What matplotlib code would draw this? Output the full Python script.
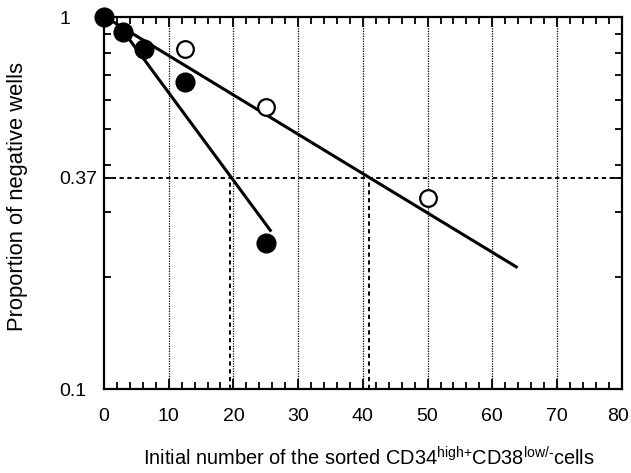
import matplotlib
matplotlib.use('Agg')
import matplotlib.pyplot as plt
import matplotlib.transforms as mtransforms
from matplotlib.ticker import FixedLocator, NullFormatter, FixedFormatter

plt.rcParams['font.family'] = ['Liberation Sans', 'DejaVu Sans']
plt.rcParams['mathtext.fontset'] = 'custom'
plt.rcParams['mathtext.rm'] = 'Liberation Sans'
plt.rcParams['mathtext.it'] = 'Liberation Sans:italic'
plt.rcParams['mathtext.bf'] = 'Liberation Sans:bold'

# Data
filled_x = [0, 3, 6.25, 12.5, 25]
filled_y = [1.0, 0.91, 0.82, 0.667, 0.247]
open_x = [12.5, 25, 50]
open_y = [0.82, 0.574, 0.327]
fit_filled_x = [2.9, 25.7]
fit_filled_y = [0.92, 0.267]
fit_open_x = [0.6, 63.7]
fit_open_y = [0.99, 0.213]
ref_y = 0.37
ref_x = [19.5, 41]
x_ticks = [0, 10, 20, 30, 40, 50, 60, 70, 80]
x_minor = [v for v in range(0, 81, 2) if v % 10 != 0]
y_ticks = [0.1, 0.37, 1]
y_tick_labels = ['0.1', '0.37', '1']
y_minor = [0.2, 0.3, 0.4, 0.5, 0.6, 0.7, 0.8, 0.9]
grid_x = [10, 20, 30, 40, 50, 60, 70]

fig = plt.figure(figsize=(6.31, 4.73), dpi=100)
ax = fig.add_axes([104/631, 1-389/473, (621.7-104)/631, (389-17)/473])
ax.set_yscale('log')
ax.set_xlim(0, 80)
ax.set_ylim(0.1, 1)

# grid
for gx in grid_x:
    ax.axvline(gx, color='black', lw=0.9, ls=(0, (1, 1)), zorder=1)
ax.axhline(ref_y, color='black', lw=1.4, ls=(0, (2.2, 1.8)), zorder=1)
for rx in ref_x:
    ax.plot([rx, rx], [0.1, ref_y], color='black', lw=1.4, ls=(0, (2.2, 1.8)), zorder=1)

ax.plot(fit_filled_x, fit_filled_y, color='black', lw=2.2, zorder=2)
ax.plot(fit_open_x, fit_open_y, color='black', lw=2.2, zorder=2)
ax.plot(filled_x, filled_y, 'o', color='black', ms=13.5, zorder=4, clip_on=False)
ax.plot(open_x, open_y, 'o', mfc='white', mec='black', mew=1.6, ms=12, zorder=4, clip_on=False)

for s in ax.spines.values():
    s.set_linewidth(1.6)

ax.xaxis.set_major_locator(FixedLocator(x_ticks))
ax.xaxis.set_minor_locator(FixedLocator(x_minor))
ax.yaxis.set_major_locator(FixedLocator(y_ticks))
ax.yaxis.set_major_formatter(FixedFormatter(y_tick_labels))
ax.yaxis.set_minor_locator(FixedLocator(y_minor))
ax.yaxis.set_minor_formatter(NullFormatter())
ax.tick_params(which='both', direction='in', top=True, right=True, width=1.3)
ax.tick_params(which='major', length=7, labelsize=14)
ax.tick_params(which='minor', length=5)
ax.tick_params(axis='x', which='major', pad=14)
ax.tick_params(axis='y', which='major', pad=32)
for lab in ax.get_yticklabels():
    lab.set_horizontalalignment('left')

# nudge the last x tick label so it stays inside the figure
last = ax.get_xticklabels()[-1]
last.set_transform(last.get_transform() +
                   mtransforms.ScaledTranslation(-4/100, 0, fig.dpi_scale_trans))

fig.text(18/631, 1-196/473, 'Proportion of negative wells', rotation=90,
         ha='center', va='center', fontsize=15.8)
fig.text(369/631, 1-458/473,
         r'Initial number of the sorted CD34$^{\text{high+}}$CD38$^{\text{low/-}}$cells',
         ha='center', va='center', fontsize=14.4)

fig.savefig('out.png', dpi=100)
